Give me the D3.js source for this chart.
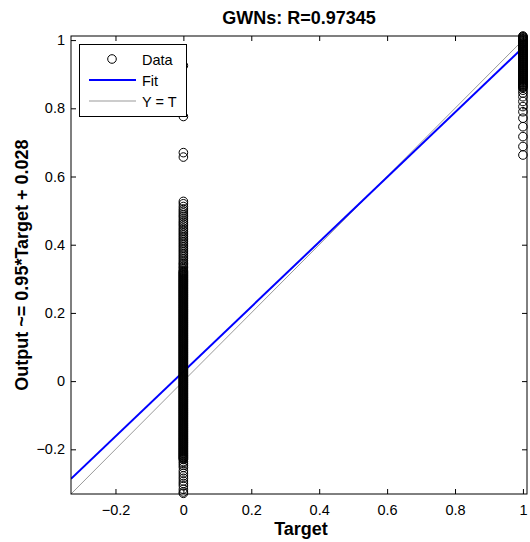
<!DOCTYPE html>
<html>
<head>
<meta charset="utf-8">
<script src="https://cdn.jsdelivr.net/npm/d3@7"></script>
<style>
  html, body { margin: 0; padding: 0; background: #fff; }
  svg { display: block; font-family: "Liberation Sans", Arial, sans-serif; }
</style>
</head>
<body>
<svg id="chart" width="530" height="542"></svg>
<script>
// ---- data ----
const titleText = "GWNs: R=0.97345";
const xLabel = "Target";
const yLabel = "Output ~= 0.95*Target + 0.028";
const xTicks = [-0.2, 0, 0.2, 0.4, 0.6, 0.8, 1];
const yTicks = [-0.2, 0, 0.2, 0.4, 0.6, 0.8, 1];
const axisMin = -0.331;
const axisMax = 1.012;
const fitSlope = 0.95;
const fitIntercept = 0.028;

// outputs for target = 0
const outputsTarget0 = [
  0.925, 0.776, 0.670, 0.657,
  0.527, 0.520, 0.512, 0.505, 0.499, 0.493, 0.487, 0.482, 0.476, 0.470, 0.465, 0.460,
  0.455, 0.449, 0.444, 0.439, 0.434, 0.429, 0.424, 0.419, 0.414, 0.409, 0.404, 0.399,
  0.394, 0.389, 0.384, 0.379, 0.374, 0.369, 0.364, 0.359, 0.354, 0.349, 0.345, 0.341,
  0.337, 0.333, 0.329, 0.325, 0.322,
  0.320, 0.318, 0.316, 0.314, 0.312, 0.310, 0.308, 0.306, 0.304, 0.302,
  0.300, 0.298, 0.296, 0.294, 0.292, 0.290, 0.288, 0.286, 0.284, 0.282,
  0.280, 0.278, 0.276, 0.274, 0.272, 0.270, 0.268, 0.266, 0.264, 0.262,
  0.260, 0.258, 0.256, 0.254, 0.252, 0.250, 0.248, 0.246, 0.244, 0.242,
  0.240, 0.238, 0.236, 0.234, 0.232, 0.230, 0.228, 0.226, 0.224, 0.222,
  0.220, 0.218, 0.216, 0.214, 0.212, 0.210, 0.208, 0.206, 0.204, 0.202,
  0.200, 0.198, 0.196, 0.194, 0.192, 0.190, 0.188, 0.186, 0.184, 0.182,
  0.180, 0.178, 0.176, 0.174, 0.172, 0.170, 0.168, 0.166, 0.164, 0.162,
  0.160, 0.158, 0.156, 0.154, 0.152, 0.150, 0.148, 0.146, 0.144, 0.142,
  0.140, 0.138, 0.136, 0.134, 0.132, 0.130, 0.128, 0.126, 0.124, 0.122,
  0.120, 0.118, 0.116, 0.114, 0.112, 0.110, 0.108, 0.106, 0.104, 0.102,
  0.100, 0.098, 0.096, 0.094, 0.092, 0.090, 0.088, 0.086, 0.084, 0.082,
  0.080, 0.078, 0.076, 0.074, 0.072, 0.070, 0.068, 0.066, 0.064, 0.062,
  0.060, 0.058, 0.056, 0.054, 0.052, 0.050, 0.048, 0.046, 0.044, 0.042,
  0.040, 0.038, 0.036, 0.034, 0.032, 0.030, 0.028, 0.026, 0.024, 0.022,
  0.020, 0.018, 0.016, 0.014, 0.012, 0.010, 0.008, 0.006, 0.004, 0.002,
  0.000, -0.002, -0.004, -0.006, -0.008, -0.010, -0.012, -0.014, -0.016, -0.018,
  -0.020, -0.022, -0.024, -0.026, -0.028, -0.030, -0.032, -0.034, -0.036, -0.038,
  -0.040, -0.042, -0.044, -0.046, -0.048, -0.050, -0.052, -0.054, -0.056, -0.058,
  -0.060, -0.062, -0.064, -0.066, -0.068, -0.070, -0.072, -0.074, -0.076, -0.078,
  -0.080, -0.082, -0.084, -0.086, -0.088, -0.090, -0.092, -0.094, -0.096, -0.098,
  -0.100, -0.102, -0.104, -0.106, -0.108, -0.110, -0.112, -0.114, -0.116, -0.118,
  -0.120, -0.122, -0.124, -0.126, -0.128, -0.130, -0.132, -0.134, -0.136, -0.138,
  -0.140, -0.142, -0.144, -0.146, -0.148, -0.150, -0.152, -0.154, -0.156, -0.158,
  -0.160, -0.162, -0.164, -0.166, -0.168, -0.170, -0.172, -0.174, -0.176, -0.178,
  -0.180, -0.182, -0.184, -0.186, -0.188, -0.190, -0.192, -0.194, -0.196, -0.198,
  -0.200, -0.202, -0.204, -0.206, -0.208, -0.210, -0.212, -0.214, -0.216, -0.218,
  -0.220, -0.222, -0.224, -0.226, -0.228, -0.230,
  -0.236, -0.241, -0.247, -0.253, -0.263, -0.270, -0.278, -0.285, -0.293, -0.300,
  -0.307, -0.317, -0.325, -0.329
];

// outputs for target = 1
const outputsTarget1 = [
  0.663, 0.688, 0.717, 0.746, 0.771, 0.790, 0.805, 0.820, 0.834, 0.845, 0.853,
  0.860, 0.862, 0.864, 0.866, 0.868, 0.870, 0.872, 0.874, 0.876, 0.878,
  0.880, 0.882, 0.884, 0.886, 0.888, 0.890, 0.892, 0.894, 0.896, 0.898,
  0.900, 0.902, 0.904, 0.906, 0.908, 0.910, 0.912, 0.914, 0.916, 0.918,
  0.920, 0.922, 0.924, 0.926, 0.928, 0.930, 0.932, 0.934, 0.936, 0.938,
  0.940, 0.942, 0.944, 0.946, 0.948, 0.950, 0.952, 0.954, 0.956, 0.958,
  0.960, 0.962, 0.964, 0.966, 0.968, 0.970, 0.972, 0.974, 0.976, 0.978,
  0.980, 0.982, 0.984, 0.986, 0.988, 0.990, 0.992, 0.994, 0.996, 0.998,
  1.000, 1.002, 1.004, 1.006, 1.008, 1.010, 1.012
];

const legendLabels = ["Data", "Fit", "Y = T"];

(function () {
  const svg = d3.select("#chart");
  const pL = 71, pR = 527, pT = 36, pB = 494;

  const x = d3.scaleLinear().domain([axisMin, axisMax]).range([pL, pR]);
  const y = d3.scaleLinear().domain([axisMin, axisMax]).range([pB, pT]);

  const points = [
    ...outputsTarget0.map(v => ({t: 0, o: v})),
    ...outputsTarget1.map(v => ({t: 1, o: v}))
  ];

  svg.append("defs").append("clipPath").attr("id", "clip")
    .append("rect").attr("x", pL).attr("y", pT).attr("width", pR - pL).attr("height", pB - pT);

  svg.append("rect").attr("x", pL).attr("y", pT).attr("width", pR - pL).attr("height", pB - pT)
    .attr("fill", "#fff");

  // lines
  const lineG = svg.append("g").attr("clip-path", "url(#clip)");
  const xs = [axisMin, axisMax];
  lineG.append("line")
    .attr("x1", x(xs[0])).attr("y1", y(xs[0]))
    .attr("x2", x(xs[1])).attr("y2", y(xs[1]))
    .attr("stroke", "#999").attr("stroke-width", 1);
  lineG.append("line")
    .attr("x1", x(xs[0])).attr("y1", y(fitSlope * xs[0] + fitIntercept))
    .attr("x2", x(xs[1])).attr("y2", y(fitSlope * xs[1] + fitIntercept))
    .attr("stroke", "#0000ff").attr("stroke-width", 2);

  // axes
  const axB = svg.append("g").attr("transform", `translate(0,${pB})`)
    .call(d3.axisBottom(x).tickValues(xTicks).tickSize(-5).tickPadding(11).tickFormat(d3.format("")));
  const axL = svg.append("g").attr("transform", `translate(${pL},0)`)
    .call(d3.axisLeft(y).tickValues(yTicks).tickSize(-5).tickPadding(6).tickFormat(d3.format("")));
  const axT = svg.append("g").attr("transform", `translate(0,${pT})`)
    .call(d3.axisTop(x).tickValues(xTicks).tickSize(-5).tickFormat(""));
  const axR = svg.append("g").attr("transform", `translate(${pR},0)`)
    .call(d3.axisRight(y).tickValues(yTicks).tickSize(-5).tickFormat(""));
  [axB, axL, axT, axR].forEach(g => {
    g.select(".domain").remove();
    g.selectAll("text").attr("font-size", "14.5px").attr("fill", "#000")
      .attr("font-family", "Liberation Sans, Arial, sans-serif");
    g.selectAll("line").attr("stroke", "#000");
  });

  // data points (on top of lines)
  svg.append("g").selectAll("circle").data(points).join("circle")
    .attr("cx", d => x(d.t)).attr("cy", d => y(d.o)).attr("r", 4.3)
    .attr("fill", "none").attr("stroke", "#000").attr("stroke-width", 1);

  // box
  svg.append("rect").attr("x", pL).attr("y", pT).attr("width", pR - pL).attr("height", pB - pT)
    .attr("fill", "none").attr("stroke", "#000").attr("stroke-width", 1);

  // title and labels
  svg.append("text").attr("x", 299).attr("y", 24).attr("text-anchor", "middle")
    .attr("font-weight", "bold").attr("font-size", "18px").text(titleText);
  svg.append("text").attr("x", 301).attr("y", 535).attr("text-anchor", "middle")
    .attr("font-weight", "bold").attr("font-size", "18px").text(xLabel);
  svg.append("text").attr("transform", `translate(28,${(pT + pB) / 2}) rotate(-90)`)
    .attr("text-anchor", "middle").attr("font-weight", "bold").attr("font-size", "18px").text(yLabel);

  // legend
  const lg = svg.append("g");
  lg.append("rect").attr("x", 79.5).attr("y", 44.5).attr("width", 107).attr("height", 72)
    .attr("fill", "#fff").attr("stroke", "#000").attr("stroke-width", 1);
  const rowsY = [59, 80, 101];
  lg.append("circle").attr("cx", 112).attr("cy", rowsY[0]).attr("r", 4.3)
    .attr("fill", "none").attr("stroke", "#000");
  lg.append("line").attr("x1", 89).attr("x2", 136).attr("y1", rowsY[1]).attr("y2", rowsY[1])
    .attr("stroke", "#0000ff").attr("stroke-width", 2);
  lg.append("line").attr("x1", 89).attr("x2", 136).attr("y1", rowsY[2]).attr("y2", rowsY[2])
    .attr("stroke", "#999").attr("stroke-width", 1);
  lg.selectAll("text.lab").data(legendLabels).join("text").attr("class", "lab")
    .attr("x", 142).attr("y", (d, i) => rowsY[i] + 5.5).attr("font-size", "14.5px").text(d => d);
})();
</script>
</body>
</html>
